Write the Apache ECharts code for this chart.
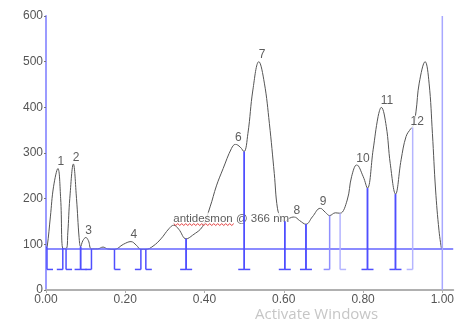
<!DOCTYPE html>
<html><head><meta charset="utf-8">
<script src="https://cdn.jsdelivr.net/npm/echarts@6/dist/echarts.min.js"></script>
<style>html,body{margin:0;padding:0;background:#fff}#c{width:457px;height:329px}</style>
</head><body><div id="c"></div>
<script>
// ---- data ----
const curveX = [0.000,0.003,0.011,0.019,0.030,0.037,0.043,0.051,0.055,0.060,0.069,0.077,0.0835,0.0873,0.093,0.1005,0.107,0.1147,0.130,0.144,0.155,0.173,0.195,0.2145,0.228,0.2394,0.2519,0.270,0.290,0.310,0.3224,0.335,0.3536,0.370,0.395,0.414,0.430,0.447,0.468,0.478,0.490,0.4995,0.5095,0.522,0.537,0.551,0.5636,0.576,0.584,0.593,0.6025,0.614,0.626,0.640,0.6559,0.672,0.692,0.705,0.7157,0.730,0.742,0.760,0.771,0.784,0.8005,0.811,0.8254,0.838,0.846,0.8586,0.8686,0.882,0.896,0.9085,0.921,0.927,0.9335,0.9417,0.9566,0.9666,0.975,0.983,0.9915,0.998];
const curveY = [92,95,160,226,266,200,91,91,125,200,276,200,115,95,108,115,108,90,90,94,90,89,100,106,98,89,89,96,112,134,142,133,112,120,139,182,228,266,310,319,313,303,343,438,500,453,365,255,179,157,150,157,160,152,144,160,179,170,163,169,168,197,248,274,248,223,307,380,400,358,277,210,285,336,354,360,390,453,500,453,343,219,131,89];
const boundaryX = [0.0025,0.0424,0.0506,0.0873,0.1147,0.1728,0.2394,0.2519,0.3536,0.5002,0.6025,0.6559,0.7157,0.7421,0.8112,0.8818,0.9252];
const boundaryTop = [95,92,90,95,90,89,89,89,112,303,150,144,163,168,223,210,356];
const peakFrom = [0,2,3,5,7,8,9,10,11,13,14,15];
const peakTo   = [1,3,4,6,8,9,10,11,12,14,15,16];
const peakLabels = ['1','2','3','4','antidesmon @ 366 nm','6','7','8','9','10','11','12'];
const peakApexX = [0.030,0.069,0.1005,0.2145,0.3224,0.478,0.538,0.626,0.692,0.784,0.846,0.921];
const peakApexY = [266,276,115,106,142,319,500,160,179,274,400,354];
const dropFloor = 45;
const baselineValue = 89;
const endMarkerX = 1.0;
const xTickValues = [0,0.2,0.4,0.6,0.8,1.0];
const yTickValues = [0,100,200,300,400,500,600];

// ---- build ----
const chart = echarts.init(document.getElementById('c'));
const FONT = 'Liberation Sans, Arial, sans-serif';
const faint = {12:'#8f8fff', 13:'#b5b5ff', 16:'#b5b5ff'};
const bData = [];
peakFrom.forEach((b,i)=>{ bData.push([boundaryX[b], boundaryTop[b], 1, b]); bData.push([boundaryX[peakTo[i]], boundaryTop[peakTo[i]], -1, peakTo[i]]); });

const xMax = 1.0275;
chart.setOption({
  animation:false,
  grid:{left:46, right:0, top:16, bottom:39},
  xAxis:{type:'value', min:0, max:xMax, interval:0.2,
    axisLine:{lineStyle:{color:'#b0b0b0', width:2}},
    axisTick:{show:true, length:3, lineStyle:{color:'#b0b0b0'}},
    axisLabel:{color:'#555', fontFamily:FONT, fontSize:12, margin:4, showMaxLabel:false,
      formatter:v=>{const k=xTickValues.find(t=>Math.abs(t-v)<1e-6); return k===undefined?'':k.toFixed(2);}},
    splitLine:{show:false}},
  yAxis:{type:'value', min:0, max:600, interval:100,
    axisLine:{show:true, lineStyle:{color:'#9b9bff', width:2}},
    axisTick:{show:true, length:2, lineStyle:{color:'#777'}},
    axisLabel:{color:'#555', fontFamily:FONT, fontSize:12, margin:3,
      formatter:v=>yTickValues.includes(v)?String(v):''},
    splitLine:{show:false}},
  series:[
    {type:'line', data:curveX.map((x,i)=>[x,curveY[i]]), smooth:0.4, symbol:'none', z:2,
      lineStyle:{color:'#555', width:1}},
    {type:'scatter', symbolSize:0, z:3,
      data:peakApexX.map((x,i)=>({value:[x,peakApexY[i]], label: peakLabels[i].length>3?{fontSize:11.5}:{}})),
      label:{show:true, position:[0,0], align:'left', verticalAlign:'bottom', offset:[-0.5,-0.5],
        formatter:p=>peakLabels[p.dataIndex], color:'#333', fontFamily:FONT,
        fontSize:12, backgroundColor:'#fff', padding:0}},
    {type:'custom', z:4, silent:true, data:[[0, baselineValue, xMax, endMarkerX]], renderItem:(params, api)=>{
      const a=api.coord([api.value(0), api.value(1)]), b=api.coord([api.value(2), api.value(1)]);
      const t=api.coord([api.value(3), 600]), u=api.coord([api.value(3), 0]);
      const y=Math.round(a[1]);
      return {type:'group', children:[
        {type:'line', shape:{x1:a[0],y1:y,x2:b[0],y2:y}, style:{stroke:'#6464ff', lineWidth:1.4}},
        {type:'line', shape:{x1:t[0],y1:t[1],x2:u[0],y2:u[1]}, style:{stroke:'#a8a8ff', lineWidth:1.5}}
      ]};
    }},
    {type:'custom', z:5, data:bData, renderItem:(params, api)=>{
      const x=api.value(0), top=api.value(1), dir=api.value(2), idx=api.value(3);
      const a=api.coord([x,top]), b=api.coord([x,dropFloor]);
      const col = faint[idx] || '#4f4fff';
      return {type:'group', children:[
        {type:'line', shape:{x1:a[0],y1:a[1],x2:b[0],y2:b[1]}, style:{stroke:col, lineWidth:1.5}},
        {type:'line', shape:{x1:b[0],y1:b[1],x2:b[0]+dir*6,y2:b[1]}, style:{stroke:col, lineWidth:1.5}}
      ]};
    }}
  ]
});

// red wavy underline under the first word of the long label
const li = peakLabels.findIndex(s=>s.length>3);
const p = chart.convertToPixel({seriesIndex:1},[peakApexX[li], peakApexY[li]]);
const cv = document.createElement('canvas').getContext('2d');
cv.font = '11.5px ' + FONT;
const w = cv.measureText(peakLabels[li].split(' ')[0]).width;
const pts=[]; for(let i=0;i<=Math.round(w/2);i++){ pts.push([p[0]+i*2, p[1]-1.5 + (i%2?1.8:0)]); }
chart.setOption({graphic:[
  {type:'polyline', z:10, shape:{points:pts}, style:{stroke:'#e23a3a', lineWidth:1, fill:null}},
  {type:'text', left:255, top:307, z:10, style:{text:'Activate Windows', fill:'#c6c6c6', font:'15px "Open Sans", sans-serif'}}
]});
</script></body></html>
